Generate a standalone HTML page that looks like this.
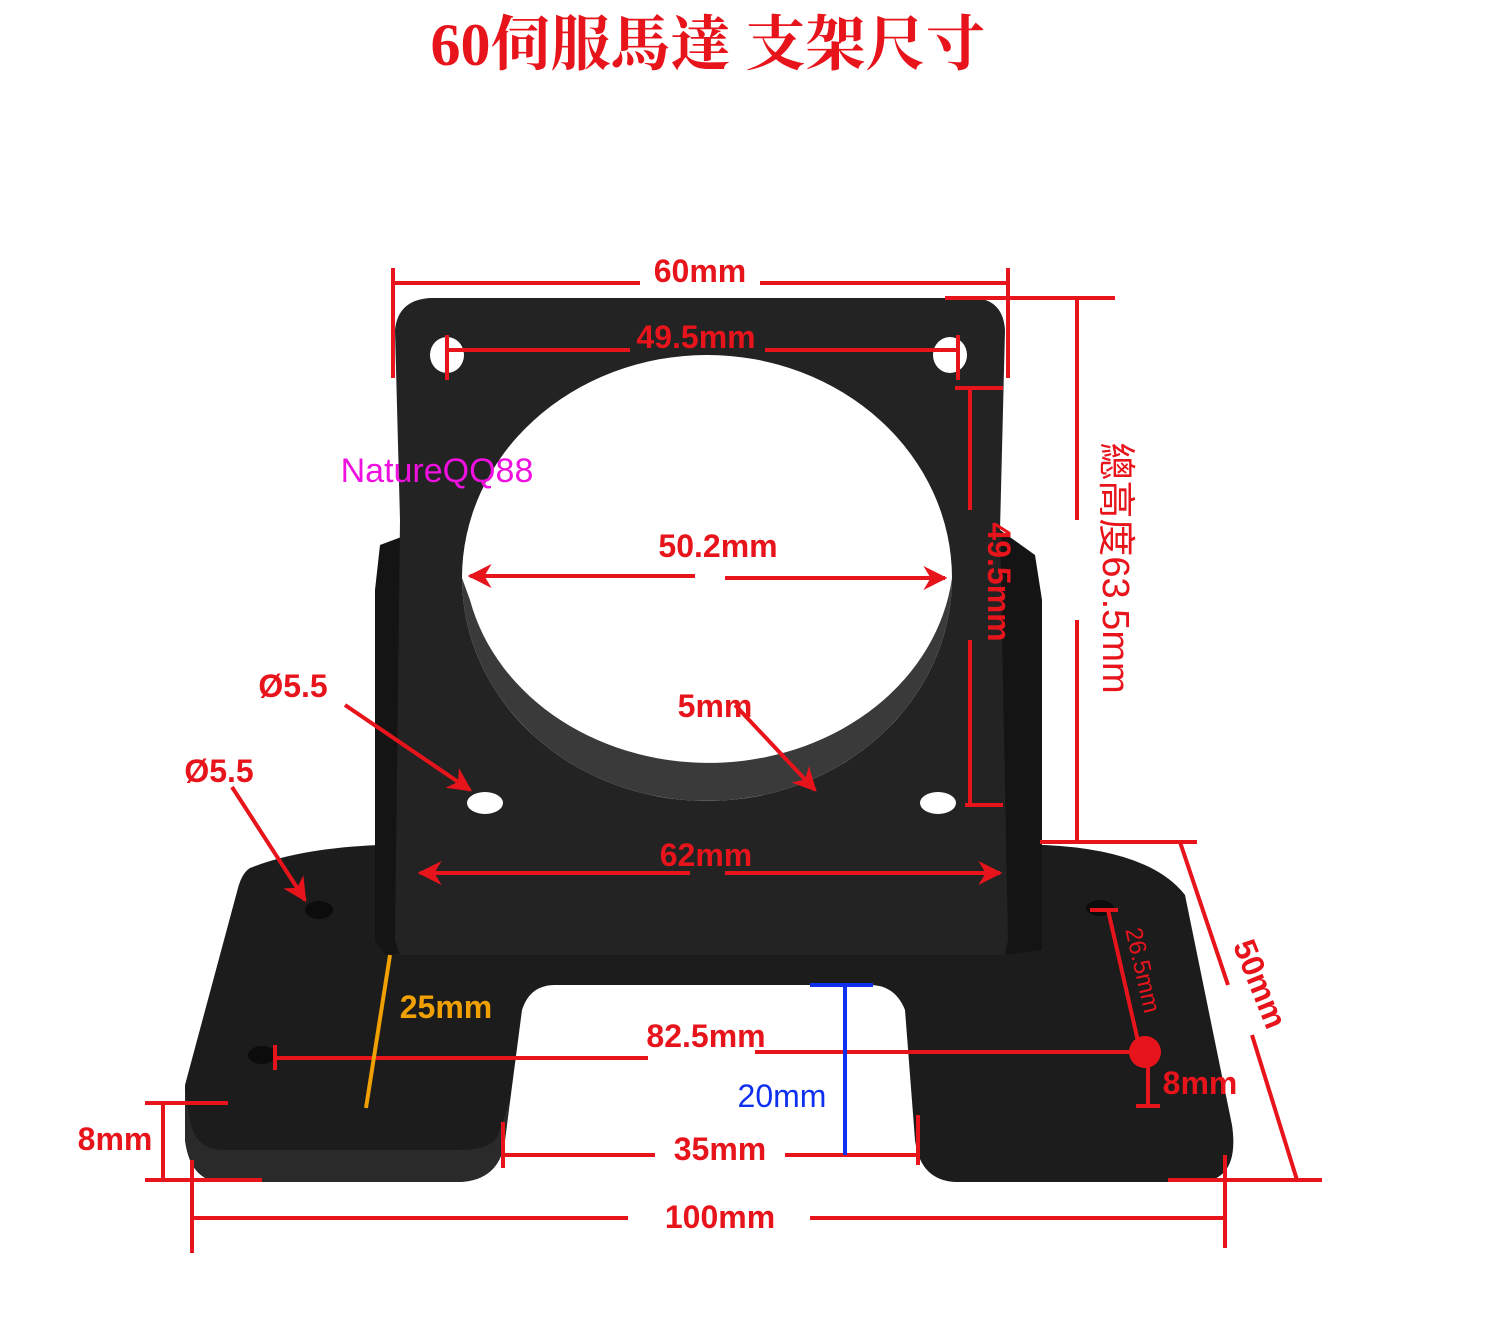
<!DOCTYPE html>
<html><head><meta charset="utf-8"><style>
html,body{margin:0;padding:0;background:#fff;}
svg{display:block}
.t{font-family:"Liberation Sans","Noto Sans CJK TC",sans-serif;font-weight:bold;fill:#e8141c;}
</style></head><body>
<svg width="1500" height="1320" viewBox="0 0 1500 1320" xmlns="http://www.w3.org/2000/svg">
<defs>
<marker id="a" viewBox="0 0 10 10" refX="9" refY="5" markerWidth="6" markerHeight="6" orient="auto-start-reverse"><path d="M0,0 L10,5 L0,10 L3,5z" fill="#e8141c"/></marker>
</defs>
<text x="708" y="65" text-anchor="middle" font-family="'Liberation Serif','Noto Serif CJK SC',serif" font-weight="bold" font-size="60" fill="#e8141c">60伺服馬達 支架尺寸</text>

<path d="M250,868 Q300,848 380,845 L1045,845 Q1150,850 1185,895 L1232,1125 Q1240,1180 1200,1182 L955,1182 Q920,1180 915,1140 L905,1010 Q895,985 870,985 L555,985 Q530,985 522,1010 L505,1140 Q500,1180 460,1182 L220,1182 Q190,1180 185,1140 L185,1085 L238,888 Q242,873 250,868Z" fill="#1c1c1c"/>
<path d="M185,1090 L185,1140 Q190,1180 220,1182 L460,1182 Q500,1180 505,1140 L510,1100 L500,1130 Q495,1150 460,1150 L220,1150 Q195,1148 190,1120Z" fill="#2a2a2a"/>
<path d="M375,590 L380,545 L420,530 L420,950 L385,955 L375,940Z" fill="#141414"/>
<path d="M1000,530 L1035,555 L1042,600 L1042,950 L1005,955Z" fill="#141414"/>
<path d="M395,330 Q398,300 430,298 L975,298 Q1003,300 1005,330 L1000,530 L1008,940 L1005,955 L400,955 L395,940 L400,520Z" fill="#232323"/>
<ellipse cx="707" cy="578" rx="245" ry="223" fill="#fff"/>
<path d="M462,578 A245,223 0 0 0 952,578 A245,210 0 0 1 470,600Z" fill="#3a3a3a"/>
<ellipse cx="447" cy="355" rx="17" ry="18" fill="#fff"/>
<ellipse cx="950" cy="355" rx="17" ry="18" fill="#fff"/>
<ellipse cx="485" cy="803" rx="18" ry="11" fill="#fff"/>
<ellipse cx="938" cy="803" rx="18" ry="11" fill="#fff"/>
<ellipse cx="319" cy="910" rx="14" ry="9" fill="#0c0c0c"/>
<ellipse cx="1100" cy="908" rx="14" ry="8" fill="#0c0c0c"/>
<ellipse cx="262" cy="1055" rx="14" ry="9" fill="#0c0c0c"/>

<g stroke="#e8141c" stroke-width="4" fill="none">
<path d="M393,268 V378 M1008,268 V378 M393,283 H640 M760,283 H1008"/>
<path d="M447,335 V380 M958,335 V380 M447,350 H630 M765,350 H958"/>
<path d="M945,298 H1115 M1040,842 H1197 M1077,298 V520 M1077,620 V842"/>
<path d="M955,388 H1003 M965,805 H1003 M970,388 V510 M970,640 V805"/>
<path d="M695,576 H470" marker-end="url(#a)"/>
<path d="M725,578 H945" marker-end="url(#a)"/>
<path d="M690,873 H420" marker-end="url(#a)"/>
<path d="M725,873 H1000" marker-end="url(#a)"/>
<path d="M345,705 L470,790" marker-end="url(#a)"/>
<path d="M232,787 L305,900" marker-end="url(#a)"/>
<path d="M735,705 L815,790" marker-end="url(#a)"/>
<path d="M275,1045 V1070 M275,1058 H648 M755,1052 H1148"/>
<path d="M1090,910 H1118 M1108,910 L1140,1050"/>
<path d="M1148,1055 V1108 M1136,1106 H1160"/>
<path d="M1180,842 L1228,985 M1252,1035 L1297,1180"/>
<path d="M503,1122 V1168 M918,1115 V1165 M503,1155 H655 M785,1155 H918"/>
<path d="M145,1103 H228 M145,1180 H262 M163,1103 V1180"/>
<path d="M192,1160 V1253 M1225,1155 V1248 M192,1218 H628 M810,1218 H1225 M1168,1180 H1322"/>
</g>
<circle cx="1145" cy="1052" r="16" fill="#e8141c"/>
<path d="M390,955 L366,1108" stroke="#f0a000" stroke-width="4"/>
<path d="M810,985 H873 M845,985 V1155" stroke="#1030f0" stroke-width="4" fill="none"/>

<g class="t" font-size="32">
<text x="700" y="282" text-anchor="middle">60mm</text>
<text x="696" y="348" text-anchor="middle">49.5mm</text>
<text x="718" y="557" text-anchor="middle">50.2mm</text>
<text x="293" y="697" text-anchor="middle">Ø5.5</text>
<text x="219" y="782" text-anchor="middle">Ø5.5</text>
<text x="715" y="717" text-anchor="middle">5mm</text>
<text x="706" y="866" text-anchor="middle">62mm</text>
<text x="706" y="1047" text-anchor="middle">82.5mm</text>
<text x="720" y="1160" text-anchor="middle">35mm</text>
<text x="720" y="1228" text-anchor="middle">100mm</text>
<text x="115" y="1150" text-anchor="middle">8mm</text>
<text x="1200" y="1094" text-anchor="middle">8mm</text>
<text x="446" y="1018" text-anchor="middle" style="fill:#f0a000">25mm</text>
<text x="782" y="1107" text-anchor="middle" style="fill:#1030f0;font-weight:normal">20mm</text>
<text x="437" y="482" text-anchor="middle" style="fill:#f010e0;font-weight:normal;font-size:34px">NatureQQ88</text>
<text transform="translate(988,582) rotate(90)" text-anchor="middle">49.5mm</text>
<text transform="translate(1250,988) rotate(68)" text-anchor="middle">50mm</text>
<text transform="translate(1103,568) rotate(90)" text-anchor="middle" style="font-weight:normal;font-size:38px">總高度63.5mm</text>
</g>
<text transform="translate(1135,972) rotate(77)" text-anchor="middle" font-family="Liberation Sans,sans-serif" font-size="24" fill="#e8141c">26.5mm</text>
</svg>
</body></html>
